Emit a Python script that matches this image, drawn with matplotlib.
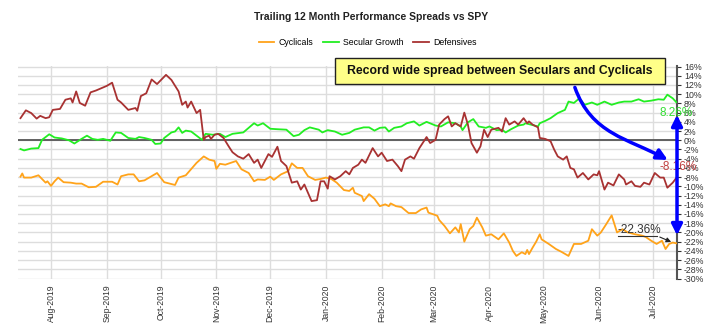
import matplotlib
matplotlib.use('Agg')
import matplotlib.pyplot as plt
import matplotlib.dates as mdates
from matplotlib.patches import FancyArrowPatch, Rectangle
from matplotlib.path import Path
from matplotlib.ticker import FuncFormatter
import pandas as pd

plt.rcParams['font.family'] = ['Liberation Sans', 'DejaVu Sans']

# Cyclicals spread vs SPY (%)
cyc_dates = ['2019-07-15','2019-07-16','2019-07-17','2019-07-21','2019-07-25','2019-07-29','2019-07-30','2019-08-01','2019-08-03','2019-08-05',
             '2019-08-08','2019-08-12','2019-08-15','2019-08-18','2019-08-22','2019-08-26','2019-08-30','2019-09-04','2019-09-07','2019-09-09',
             '2019-09-13','2019-09-16','2019-09-19','2019-09-22','2019-09-26','2019-09-29','2019-10-03','2019-10-09','2019-10-11','2019-10-15',
             '2019-10-17','2019-10-21','2019-10-25','2019-10-28','2019-10-31','2019-11-01','2019-11-03','2019-11-06','2019-11-09','2019-11-12',
             '2019-11-15','2019-11-19','2019-11-22','2019-11-24','2019-11-28','2019-12-01','2019-12-03','2019-12-07','2019-12-11','2019-12-13',
             '2019-12-16','2019-12-19','2019-12-22','2019-12-26','2019-12-29','2020-01-01','2020-01-04','2020-01-07','2020-01-11','2020-01-14',
             '2020-01-16','2020-01-17','2020-01-21','2020-01-22','2020-01-25','2020-01-28','2020-01-31','2020-02-03','2020-02-05','2020-02-06',
             '2020-02-09','2020-02-12','2020-02-16','2020-02-20','2020-02-23','2020-02-26','2020-02-27','2020-03-01','2020-03-03','2020-03-04',
             '2020-03-07','2020-03-10','2020-03-13','2020-03-15','2020-03-16','2020-03-18','2020-03-21','2020-03-23','2020-03-25','2020-03-28',
             '2020-03-30','2020-04-02','2020-04-06','2020-04-09','2020-04-12','2020-04-14','2020-04-16','2020-04-19','2020-04-21','2020-04-22',
             '2020-04-23','2020-04-25','2020-04-27','2020-04-29','2020-04-30','2020-05-04','2020-05-08','2020-05-11','2020-05-15','2020-05-18',
             '2020-05-22','2020-05-26','2020-05-28','2020-05-31','2020-06-02','2020-06-05','2020-06-08','2020-06-11','2020-06-14','2020-06-17',
             '2020-06-21','2020-06-25','2020-06-27','2020-06-30','2020-07-03','2020-07-06','2020-07-08','2020-07-10','2020-07-12','2020-07-14']
cyc_vals = [-7.9,-7.2,-8.1,-8.1,-7.6,-9.2,-8.9,-9.9,-8.9,-8.1,
            -9.1,-9.2,-9.4,-9.4,-10.2,-10.1,-9.0,-9.0,-9.6,-7.8,
            -7.4,-7.4,-8.9,-8.7,-7.8,-7.1,-9.1,-9.7,-8.1,-7.6,
            -6.7,-4.9,-3.5,-4.2,-4.5,-6.2,-5.1,-5.3,-4.9,-4.5,
            -6.3,-7.1,-8.9,-8.5,-8.6,-7.9,-8.6,-7.4,-6.7,-5.0,
            -6.0,-6.0,-7.8,-8.6,-8.4,-8.1,-8.4,-9.2,-10.8,-11.0,
            -10.3,-11.4,-12.1,-13.2,-11.7,-12.7,-14.3,-13.9,-14.3,-13.7,
            -14.3,-14.5,-15.8,-15.8,-15.0,-14.6,-15.7,-16.1,-16.4,-17.3,
            -18.6,-20.2,-18.9,-20.0,-18.2,-22.0,-19.3,-18.6,-16.8,-18.9,
            -20.7,-20.4,-21.5,-20.2,-22.2,-24.0,-25.1,-24.3,-24.7,-23.8,
            -24.7,-23.3,-22.0,-20.4,-21.5,-22.5,-23.6,-24.2,-25.1,-22.5,
            -22.5,-21.8,-19.3,-20.7,-20.0,-18.2,-16.3,-20.0,-19.3,-20.0,
            -20.4,-20.7,-21.0,-21.8,-22.5,-21.8,-23.6,-22.5,-22.2,-22.36]

# Secular Growth spread vs SPY (%)
sec_dates = ['2019-07-15','2019-07-17','2019-07-21','2019-07-25','2019-07-27','2019-07-31','2019-08-03','2019-08-07','2019-08-11','2019-08-14',
             '2019-08-18','2019-08-21','2019-08-24','2019-08-27','2019-08-30','2019-09-03','2019-09-06','2019-09-09','2019-09-13','2019-09-17',
             '2019-09-19','2019-09-22','2019-09-26','2019-09-28','2019-10-01','2019-10-03','2019-10-07','2019-10-09','2019-10-11','2019-10-13',
             '2019-10-15','2019-10-18','2019-10-21','2019-10-24','2019-10-26','2019-10-30','2019-11-03','2019-11-06','2019-11-10','2019-11-16',
             '2019-11-19','2019-11-22','2019-11-24','2019-11-27','2019-12-01','2019-12-05','2019-12-10','2019-12-14','2019-12-17','2019-12-20',
             '2019-12-23','2019-12-28','2019-12-30','2020-01-02','2020-01-06','2020-01-10','2020-01-14','2020-01-17','2020-01-22','2020-01-25',
             '2020-01-28','2020-01-31','2020-02-03','2020-02-05','2020-02-08','2020-02-12','2020-02-15','2020-02-19','2020-02-22','2020-02-26',
             '2020-03-02','2020-03-05','2020-03-09','2020-03-13','2020-03-16','2020-03-17','2020-03-20','2020-03-23','2020-03-26','2020-03-30',
             '2020-04-01','2020-04-05','2020-04-08','2020-04-10','2020-04-13','2020-04-17','2020-04-20','2020-04-21','2020-04-24','2020-04-28',
             '2020-04-29','2020-05-02','2020-05-05','2020-05-09','2020-05-13','2020-05-15','2020-05-18','2020-05-21','2020-05-24','2020-05-28',
             '2020-05-31','2020-06-04','2020-06-08','2020-06-12','2020-06-15','2020-06-19','2020-06-23','2020-06-26','2020-06-30','2020-07-04',
             '2020-07-07','2020-07-09','2020-07-12','2020-07-14']
sec_vals = [-1.9,-2.2,-1.8,-1.7,0.1,1.3,0.6,0.4,0.0,-0.7,
            0.3,1.0,0.3,0.1,0.3,-0.1,1.7,1.6,0.5,0.3,
            0.7,0.5,0.1,-0.8,-0.7,0.5,1.7,1.9,2.8,1.6,
            2.1,1.9,1.0,0.1,1.4,1.2,1.4,0.7,1.4,1.7,
            2.7,3.7,3.2,3.7,2.5,2.4,2.3,0.9,1.2,2.2,
            2.8,2.3,1.7,2.2,1.9,1.2,1.6,2.3,2.8,2.8,
            2.1,2.7,2.8,1.9,2.7,3.0,3.7,4.1,3.2,4.0,
            3.2,3.0,3.9,3.7,3.0,2.2,3.9,4.6,3.0,2.7,
            3.0,2.2,2.3,1.7,2.4,3.2,3.4,3.7,3.4,3.0,
            3.7,4.2,4.8,5.9,6.6,8.4,8.1,9.1,7.7,8.2,
            7.7,8.4,7.7,8.2,8.4,8.4,8.9,8.4,8.6,8.9,
            8.8,9.9,9.1,8.26]

# Defensives spread vs SPY (%)
def_dates = ['2019-07-15','2019-07-18','2019-07-21','2019-07-24','2019-07-26','2019-07-29','2019-07-31','2019-08-02','2019-08-06','2019-08-09',
             '2019-08-12','2019-08-13','2019-08-15','2019-08-17','2019-08-20','2019-08-23','2019-08-26','2019-08-29','2019-09-01','2019-09-04',
             '2019-09-07','2019-09-09','2019-09-13','2019-09-17','2019-09-18','2019-09-20','2019-09-23','2019-09-26','2019-09-29','2019-10-04',
             '2019-10-07','2019-10-11','2019-10-13','2019-10-15','2019-10-16','2019-10-18','2019-10-21','2019-10-23','2019-10-25','2019-10-26',
             '2019-10-28','2019-10-29','2019-10-31','2019-11-02','2019-11-05','2019-11-08','2019-11-10','2019-11-13','2019-11-16','2019-11-19',
             '2019-11-22','2019-11-24','2019-11-26','2019-11-30','2019-12-02','2019-12-05','2019-12-07','2019-12-10','2019-12-13','2019-12-16',
             '2019-12-18','2019-12-20','2019-12-24','2019-12-27','2019-12-29','2019-12-31','2020-01-02','2020-01-03','2020-01-06','2020-01-09',
             '2020-01-12','2020-01-14','2020-01-16','2020-01-19','2020-01-21','2020-01-23','2020-01-27','2020-01-30','2020-02-01','2020-02-04',
             '2020-02-07','2020-02-10','2020-02-12','2020-02-14','2020-02-17','2020-02-19','2020-02-22','2020-02-26','2020-02-28','2020-03-02',
             '2020-03-04','2020-03-07','2020-03-09','2020-03-11','2020-03-13','2020-03-16','2020-03-18','2020-03-20','2020-03-22','2020-03-25',
             '2020-03-27','2020-03-29','2020-03-31','2020-04-02','2020-04-06','2020-04-08','2020-04-10','2020-04-12','2020-04-15','2020-04-17',
             '2020-04-20','2020-04-22','2020-04-23','2020-04-25','2020-04-28','2020-04-29','2020-05-02','2020-05-05','2020-05-07','2020-05-09',
             '2020-05-12','2020-05-14','2020-05-16','2020-05-18','2020-05-20','2020-05-23','2020-05-26','2020-05-29','2020-05-31','2020-06-01',
             '2020-06-04','2020-06-06','2020-06-09','2020-06-12','2020-06-15','2020-06-16','2020-06-19','2020-06-21','2020-06-24','2020-06-26',
             '2020-06-29','2020-07-02','2020-07-05','2020-07-07','2020-07-09','2020-07-12','2020-07-14']
def_vals = [4.8,6.5,5.9,4.7,5.3,4.8,5.0,6.6,6.8,8.8,
            9.1,8.2,10.6,8.1,7.5,10.4,10.8,11.3,11.8,12.5,
            8.8,8.2,6.6,7.0,6.4,9.6,10.2,13.2,12.2,14.2,
            13.1,10.6,7.7,8.4,7.1,8.4,5.9,6.6,0.1,0.7,
            1.0,0.3,1.2,1.4,0.5,-1.4,-2.6,-3.5,-4.0,-3.0,
            -4.9,-4.2,-6.0,-3.0,-3.6,-1.4,-4.5,-5.6,-9.2,-8.9,
            -10.7,-9.6,-13.2,-13.0,-8.9,-8.9,-10.5,-7.8,-8.5,-7.8,
            -6.7,-7.4,-6.0,-5.3,-4.2,-4.9,-1.7,-3.5,-2.7,-4.5,
            -4.2,-5.6,-6.7,-4.2,-3.5,-4.0,-1.7,0.7,-0.6,0.1,
            3.4,4.6,5.2,3.0,3.7,3.0,6.0,3.4,-0.6,-2.7,
            -1.3,2.3,0.7,2.3,2.7,1.9,4.8,3.4,4.1,3.4,
            4.8,3.7,4.1,3.4,2.8,0.5,0.3,-0.2,-2.0,-3.5,
            -4.2,-3.5,-6.0,-6.3,-8.1,-7.1,-8.5,-7.4,-7.6,-6.7,
            -10.7,-9.2,-9.8,-7.4,-8.5,-9.6,-8.9,-9.9,-10.1,-9.2,
            -9.6,-7.1,-8.1,-8.1,-10.3,-9.2,-8.16]

series = [('Cyclicals', cyc_dates, cyc_vals, '#ffa31a'),
          ('Secular Growth', sec_dates, sec_vals, '#22ee22'),
          ('Defensives', def_dates, def_vals, '#a83232')]

fig = plt.figure(figsize=(7.2, 3.24), dpi=100)
ax = fig.add_axes([0.025, 0.139, 0.9153, 0.657])

for name, d, v, c in series:
    assert len(d) == len(v), (name, len(d), len(v))
    ax.plot(pd.to_datetime(d), v, color=c, lw=1.3, label=name, zorder=3)

ax.axhline(0, color='#555555', lw=1.3, zorder=2)

ax.set_xlim(pd.Timestamp('2019-07-13 15:00'), pd.Timestamp('2020-07-14 09:00'))
ax.set_ylim(-30.1, 16.1)
ax.set_yticks(range(-30, 17, 2))
ax.yaxis.set_major_formatter(FuncFormatter(lambda v, p: f'{int(v)}%'))
ax.yaxis.tick_right()
ax.tick_params(axis='y', labelsize=6.3, colors='#333333', length=3, width=0.8, pad=2)
ax.xaxis.set_major_locator(mdates.MonthLocator())
ax.xaxis.set_major_formatter(mdates.DateFormatter('%b-%Y'))
ax.tick_params(axis='x', labelsize=6.2, colors='#333333', length=0, pad=4, labelrotation=90)

for s in ['left', 'top', 'bottom']:
    ax.spines[s].set_visible(False)
ax.spines['right'].set_color('#555555')
ax.spines['right'].set_linewidth(1.5)
ax.grid(True, color='#dddddd', lw=1)
ax.set_axisbelow(True)

fig.text(0.515, 0.948, 'Trailing 12 Month Performance Spreads vs SPY',
         ha='center', va='center', fontsize=7.5, fontweight='bold', color='#222222')
fig.legend(loc='center', bbox_to_anchor=(0.511, 0.870), ncol=3, frameon=False,
           fontsize=6.3, handlelength=1.8, handletextpad=0.5, columnspacing=1.1)

# callout box
fig.patches.append(Rectangle((0.465, 0.741), 0.458, 0.080, transform=fig.transFigure,
                             fc='#ffff88', ec='#222222', lw=1, zorder=6))
fig.text(0.694, 0.781, 'Record wide spread between Seculars and Cyclicals',
         ha='center', va='center', fontsize=8.8, fontweight='bold', color='#111111', zorder=7)

# end-of-series value labels
ax.text(0.974, 0.779, '8.26%', transform=ax.transAxes, color='#33dd33',
        fontsize=8.5, ha='left', va='center', clip_on=False, zorder=5)
ax.text(0.973, 0.526, '-8.16%', transform=ax.transAxes, color='#c04040',
        fontsize=8.5, ha='left', va='center', clip_on=False, zorder=5)
ax.text(0.910, 0.232, '-22.36%', transform=ax.transAxes, color='#333333',
        fontsize=8.5, ha='left', va='center', clip_on=False, zorder=5)
ax.plot([0.910, 0.970], [0.202, 0.202], transform=ax.transAxes, color='#333333',
        lw=0.8, clip_on=False, zorder=5)
ax.annotate('', xy=(0.995, 0.169), xytext=(0.970, 0.202), xycoords='axes fraction',
            arrowprops=dict(arrowstyle='-|>', color='#222222', lw=0.8, mutation_scale=7),
            zorder=5)

# blue curved arrow from the callout
curve = Path([(0.845, 0.90), (0.870, 0.68), (0.926, 0.66), (0.986, 0.559)],
             [Path.MOVETO, Path.CURVE4, Path.CURVE4, Path.CURVE4])
ax.add_patch(FancyArrowPatch(path=curve, transform=ax.transAxes, arrowstyle='-|>',
                             mutation_scale=16, color='#0000ff', lw=2.5,
                             clip_on=False, zorder=7))
# blue double arrow spanning the spread
ax.add_patch(FancyArrowPatch((1.0, 0.784), (1.0, 0.192), transform=ax.transAxes,
                             arrowstyle='<|-|>', mutation_scale=16, color='#0000ff',
                             lw=2.5, clip_on=False, zorder=7))

fig.savefig('out.png', dpi=100)
